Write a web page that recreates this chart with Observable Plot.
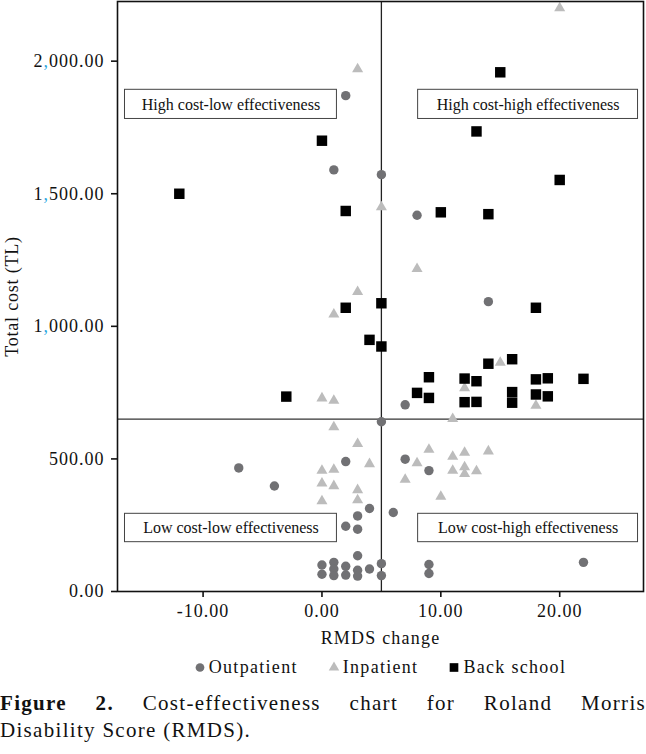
<!DOCTYPE html>
<html>
<head>
<meta charset="utf-8">
<script src="https://cdn.jsdelivr.net/npm/d3@7"></script>
<script src="https://cdn.jsdelivr.net/npm/@observablehq/plot@0.6"></script>
<style>
  body { margin: 0; background: #fff; font-family: "Liberation Serif", serif; color: #111; }
  #chart svg { display: block; }
  g[aria-label="x-axis tick label"] text,
  g[aria-label="y-axis tick label"] text { letter-spacing: 1px; }
  g[aria-label="x-axis label"] text { letter-spacing: 1.2px; }
  g[aria-label="y-axis label"] text { letter-spacing: 0.8px; }
  #legend { display: flex; justify-content: center; align-items: center; gap: 30px;
            height: 24px; margin-top: 5px; padding-left: 114px; font-size: 18px; letter-spacing: 1.3px; }
  #legend .item { display: flex; align-items: center; gap: 3px; white-space: nowrap; }
  #caption { margin-top: 10.5px; font-size: 21px; line-height: 27px; letter-spacing: 1.3px; width: 646px; }
  #caption .l1 { text-align: justify; text-align-last: justify; }
</style>
</head>
<body>
<div id="chart"></div>
<div id="legend"></div>
<div id="caption">
  <div class="l1"><b>Figure 2.</b> Cost-effectiveness chart for Roland Morris</div>
  <div>Disability Score (RMDS).</div>
</div>
<script>
// ---- data (RMDS change, total cost TL) ----
const outpatient = [
  [2,1870],[1,1590],[5,1572],[8,1419],[14,1093],[7,704],[5,640],[2,490],[-7,466],[-4,398],
  [7,499],[9,456],[4,313],[3,285],[6,298],[2,246],[3,235],[3,135],[22,110],
  [0,100],[0,65],[1,110],[1,85],[1,60],[2,95],[2,62],[3,80],[3,58],[4,85],[5,105],[5,60],[9,102],[9,68]
];
const inpatient = [
  [3,1970],[20,2200],[5,1450],[3,1130],[8,1217],[1,1045],[0,729],[1,720],[15,863],[12,767],
  [18,701],[11,651],[1,620],[3,557],[4,481],[0,456],[1,460],[0,408],[1,398],[3,383],[0,341],
  [3,345],[9,535],[11,509],[12,524],[14,529],[8,484],[11,456],[12,469],[12,444],[13,454],[7,422],[10,358]
];
const backSchool = [
  [0,1700],[-12,1500],[2,1435],[15,1958],[13,1735],[20,1552],[10,1430],[14,1423],[2,1070],[5,1087],
  [18,1070],[4,949],[5,924],[-3,735],[14,859],[16,876],[9,808],[12,803],[13,793],[18,800],[19,804],
  [22,802],[8,749],[9,730],[12,714],[13,715],[16,752],[16,712],[18,743],[19,736]
];
const seriesNames = ["Outpatient", "Inpatient", "Back school"];
const xTicks = [-10, 0, 10, 20];
const yTicks = [0, 500, 1000, 1500, 2000];
const xThreshold = 5;      // effectiveness threshold (RMDS change)
const yThreshold = 650;    // cost threshold (TL)
const quadrantLabels = ["High cost-low effectiveness", "High cost-high effectiveness",
                        "Low cost-low effectiveness", "Low cost-high effectiveness"];
const quadrantX1 = [-16.57, 8.09, -16.57, 8.09];
const quadrantX2 = [1.26, 26.59, 1.26, 26.59];
const quadrantY1 = [1782, 1782, 186, 186];
const quadrantY2 = [1892, 1892, 293, 293];

// ---- styles ----
const colors = {Outpatient: "#717174", Inpatient: "#bcbcbc", "Back school": "#000000"};
const quadrants = quadrantLabels.map((label, i) => ({
  label, x1: quadrantX1[i], x2: quadrantX2[i], y1: quadrantY1[i], y2: quadrantY2[i]
}));

const plot = Plot.plot({
  width: 646,
  height: 650,
  marginLeft: 117,
  marginRight: 3,
  marginTop: 1,
  marginBottom: 59,
  style: {fontFamily: '"Liberation Serif", serif', fontSize: "16px", color: "#111", background: "#fff", overflow: "visible"},
  x: {domain: [-17.2, 27.05]},
  y: {domain: [0, 2225]},
  marks: [
    Plot.ruleX([xThreshold], {stroke: "#222", strokeWidth: 1.3}),
    Plot.ruleY([yThreshold], {stroke: "#333", strokeWidth: 1.3}),
    Plot.dot(outpatient, {x: d => d[0], y: d => d[1], r: 4.7, symbol: "circle", fill: colors.Outpatient}),
    Plot.dot(inpatient, {x: d => d[0], y: d => d[1], r: 4.1, symbol: "triangle", fill: colors.Inpatient}),
    Plot.dot(backSchool, {x: d => d[0], y: d => d[1], r: 5.9, symbol: "square", fill: colors["Back school"]}),
    Plot.rect(quadrants, {x1: "x1", x2: "x2", y1: "y1", y2: "y2", fill: "white", stroke: "#444", strokeWidth: 1}),
    Plot.text(quadrants, {x: d => (d.x1 + d.x2) / 2, y: d => (d.y1 + d.y2) / 2, text: "label", fontSize: 16, fill: "#111"}),
    Plot.axisX({ticks: xTicks, tickFormat: d => d.toFixed(2), tickSize: 6, tickPadding: 7, strokeWidth: 1.6,
                label: "RMDS change", labelAnchor: "center", labelArrow: "none", labelOffset: 52, fontSize: 18}),
    Plot.axisY({ticks: yTicks, tickFormat: d3.format(",.2f"), tickSize: 6, tickPadding: 7, strokeWidth: 1.6,
                label: "Total cost (TL)", labelAnchor: "center", labelArrow: "none", labelOffset: 112, fontSize: 18}),
    Plot.frame({stroke: "#111", strokeWidth: 1.6})
  ]
});
document.getElementById("chart").appendChild(plot);

// colour the thousands separators of the y tick labels as in the original
d3.select(plot).selectAll('g[aria-label="y-axis tick label"] text').each(function () {
  const t = this.textContent;
  if (t.includes(",")) {
    const [a, b] = t.split(",");
    const sel = d3.select(this);
    sel.text(null);
    sel.append("tspan").text(a);
    sel.append("tspan").attr("fill", "#2aa7df").text(",");
    sel.append("tspan").text(b);
  }
});

// legend
const legend = d3.select("#legend");
const symbolFor = {Outpatient: d3.symbolCircle, Inpatient: d3.symbolTriangle, "Back school": d3.symbolSquare};
const sizeFor = {Outpatient: 60, Inpatient: 48, "Back school": 75};
seriesNames.forEach(name => {
  const item = legend.append("span").attr("class", "item");
  const s = item.append("svg").attr("width", 12).attr("height", 12);
  s.append("path").attr("transform", "translate(6,6.5)")
    .attr("d", d3.symbol(symbolFor[name], sizeFor[name])())
    .attr("fill", colors[name]);
  item.append("span").text(name);
});
</script>
</body>
</html>
